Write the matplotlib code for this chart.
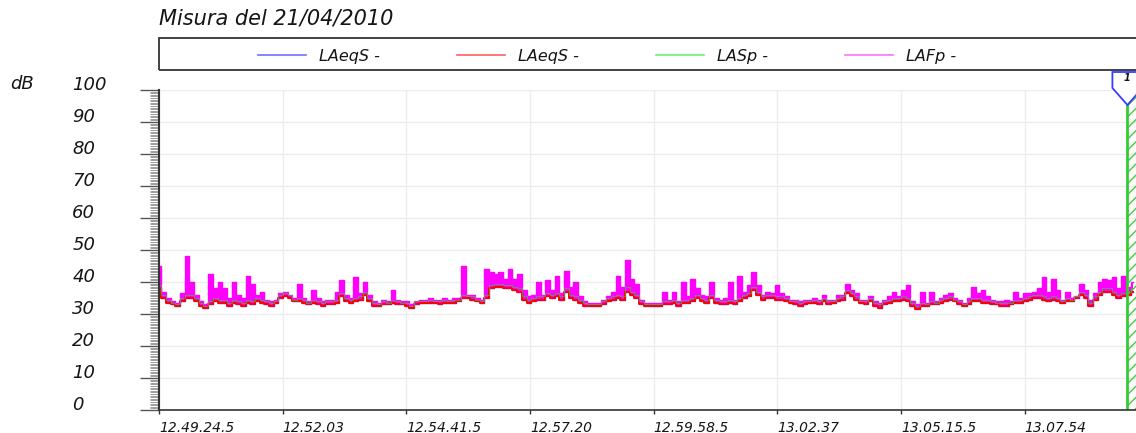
import numpy as np
import matplotlib.pyplot as plt
from matplotlib.lines import Line2D
from matplotlib.patches import Rectangle, Polygon
from matplotlib.ticker import MultipleLocator
from matplotlib.transforms import ScaledTranslation

title = "Misura del 21/04/2010"
series_names = ["LAeqS -", "LAeqS -", "LASp -", "LAFp -"]
series_colors = ["#3c3cff", "#ff0000", "#22dd22", "#ff00ff"]
legend_colors = ["#7070ff", "#ff6060", "#70ee70", "#ff70ff"]

# x tick labels (hh.mm.ss)
time_labels = ["12.49.24.5", "12.52.03", "12.54.41.5", "12.57.20",
               "12.59.58.5", "13.02.37", "13.05.15.5", "13.07.54"]
y_ticks = [0, 10, 20, 30, 40, 50, 60, 70, 80, 90, 100]

sample_step = 6  # seconds between samples
marker_t = 1241  # marker "1" (seconds from start)
marker_label = "1"

lafp = [45, 37, 35, 34, 33.5, 36.5, 48, 40, 36, 34, 33, 42.5, 38, 40, 38, 35, 40, 36, 35, 42,
        39.5, 36, 37, 34.5, 34, 34.5, 36.5, 37, 36, 35, 39.5, 35, 34, 37.5, 35, 34,
        34.5, 34.5, 37, 40.5, 36, 35, 41.5, 36.5, 40, 36, 34, 33.5, 34.5, 34, 37.5, 34.5, 34, 34, 33, 34,
        34.5, 34.5, 35, 34.5, 34.5, 35, 34.5, 35, 35, 45, 36, 36, 35, 34.5, 44,
        43, 42.5, 43, 41, 44, 41, 42.5, 37.5, 35.5, 36, 40, 36, 40.5, 37.5, 42, 36.5, 43.5, 38.5, 40, 35.5,
        34, 33.5, 33.5, 33.5, 34.5, 35.5, 37, 42, 38.5, 47, 41, 39.5, 34.5, 33.5, 33.5,
        33.5, 33.5, 37, 34.5, 37, 34, 40, 35.5, 41, 38, 36, 35.5, 40, 35, 34.5, 35, 40, 34.5, 42, 37,
        39, 43, 39, 36, 37, 36.5, 39, 36.5, 35.5, 34.5, 34.5, 34, 34.5, 34.5, 35,
        34.5, 36, 34.5, 34.5, 36, 36, 39.5, 37.5, 36.5, 34.5, 34.5, 35.5, 34, 33.5, 34.5, 35.5, 37, 35.5, 37.5, 39,
        34, 33, 37, 33.5, 37, 34, 35, 36, 36.5, 35, 34.5, 33.5, 35, 38.5, 36.5,
        37.5, 35.5, 34.5, 34, 34, 34.5, 34, 37, 35, 36.5, 36.5, 37, 38, 41.5, 37, 41, 37.5, 34.5, 37, 35,
        35.5, 39.5, 37.5, 34.5, 36.5, 40, 41, 40.5, 41.5, 38, 42, 38.5, 40]

laeqs = [38, 35, 33.5, 33, 32.5, 34, 35, 35, 34, 32.5, 32, 33, 34, 33.5, 33.5, 32.5, 33.5, 33, 32.5, 33.5,
         33, 34, 33.5, 33, 32.5, 33.5, 35, 35.5, 35, 34, 34, 33.5, 33, 33.5, 33, 32.5,
         33, 33, 33.5, 35.5, 34, 33.5, 34, 34.5, 36, 34, 32.5, 32.5, 33, 33, 33.5, 33, 33, 32.5, 32, 33,
         33.5, 33.5, 33.5, 33.5, 33, 33.5, 33.5, 33.5, 34, 35, 35, 34.5, 34, 33.5, 35,
         38, 38.5, 38.5, 38, 38, 37.5, 37, 34.5, 33.5, 34, 34.5, 34.5, 35.5, 35, 35.5, 34.5, 37, 35, 34.5, 33.5,
         32.5, 32.5, 32.5, 32.5, 33, 34, 34.5, 35, 34.5, 37, 36, 35, 33, 32.5, 32.5,
         32.5, 32.5, 33, 33, 33.5, 32.5, 33.5, 33.5, 34, 35, 34, 33.5, 35, 33.5, 33, 33, 33.5, 33, 34, 35,
         35.5, 37.5, 36, 34.5, 35, 35, 34.5, 34.5, 34, 33.5, 33, 32.5, 33, 33.5, 33.5,
         33, 34, 33, 33.5, 34, 34.5, 36.5, 35.5, 34.5, 33.5, 33, 34, 32.5, 32, 33, 33.5, 34, 34, 34.5, 34,
         32.5, 31.5, 32.5, 32.5, 33, 33, 33.5, 34, 34.5, 34, 33, 32.5, 33, 34, 34,
         33.5, 33.5, 33, 33, 32.5, 32.5, 33, 33.5, 33.5, 34, 34.5, 35, 35, 34.5, 34, 34.5, 34, 33.5, 34, 34,
         35, 36, 35, 32.5, 34.5, 36, 37, 37, 36, 35, 35.5, 36, 37]

lasp = [39, 36, 34.5, 33.5, 33, 35, 36, 36, 35, 33.5, 32.5, 34, 35, 34.5, 34.5, 33.5, 34.5, 34, 33.5, 34.5,
        34, 35, 34.5, 34, 33.5, 34, 36, 36.5, 36, 34.5, 35, 34.5, 33.5, 34.5, 34, 33.5,
        34, 34, 34.5, 36.5, 35, 34.5, 35, 35.5, 37, 35, 33.5, 33, 34, 33.5, 34.5, 34, 33.5, 33.5, 32.5, 34,
        34, 34, 34.5, 34, 34, 34.5, 34, 34.5, 34.5, 36, 35.5, 35.5, 34.5, 34, 36,
        39, 39.5, 39.5, 39, 39, 38.5, 38, 35.5, 34.5, 35, 35.5, 35.5, 36.5, 36, 36.5, 35.5, 38, 36, 35.5, 34.5,
        33.5, 33, 33, 33, 34, 35, 35.5, 36, 35.5, 38.5, 37, 36, 34, 33, 33,
        33, 33, 34, 34, 34.5, 33.5, 34.5, 34.5, 35, 36, 35, 34.5, 36, 34.5, 34, 34, 34.5, 34, 35, 36,
        36.5, 38.5, 37, 35.5, 36, 36, 35.5, 35.5, 35, 34, 34, 33.5, 34, 34, 34.5,
        34, 35, 34, 34, 35, 35.5, 37.5, 36.5, 35.5, 34, 34, 35, 33.5, 33, 34, 34.5, 35, 35, 35.5, 35,
        33.5, 32.5, 33.5, 33, 34, 33.5, 34.5, 35, 35.5, 34.5, 34, 33, 34, 35, 35,
        34.5, 34.5, 34, 33.5, 33.5, 33.5, 33.5, 34.5, 34.5, 35, 35.5, 36, 36, 35.5, 35, 35.5, 35, 34, 35, 34.5,
        35.5, 37, 36, 33.5, 35.5, 37, 38, 38, 37, 36, 36.5, 37, 38]


def to_sec(lbl):
    h, m, s = lbl.split(".", 2)
    return int(h) * 3600 + int(m) * 60 + float(s)


t0 = to_sec(time_labels[0])
tick_pos = [to_sec(l) - t0 for l in time_labels]
t = np.arange(len(lafp)) * sample_step

plt.rcParams['font.family'] = ['DejaVu Sans']
txt_col = "#151515"

fig = plt.figure(figsize=(11.36, 4.33), dpi=100)
ax = fig.add_axes([159 / 1136, 1 - 410 / 433, 1 - 159 / 1136, 320 / 433])

ax.plot(t, laeqs, color=series_colors[0], lw=1.0, drawstyle='steps-mid')
ax.plot(t, laeqs, color=series_colors[1], lw=1.4, drawstyle='steps-mid')
ax.fill_between(t, laeqs, lafp, step='mid', color=series_colors[3], lw=0)
ax.plot(t, lafp, color=series_colors[3], lw=1.0, drawstyle='steps-mid')
ax.plot(t, lasp, color=series_colors[2], lw=0.6, drawstyle='steps-mid', alpha=0.7)

# marker band on the right
ax.axvspan(marker_t, marker_t + 40, facecolor='none', edgecolor='#44cc44',
           hatch='///', lw=0)
ax.axvline(marker_t, color='#33cc33', lw=2)
mtr = fig.dpi_scale_trans + ScaledTranslation(marker_t, 100, ax.transData)
ax.add_patch(Polygon([(-0.15, 0.18), (-0.15, 0.02), (0, -0.15), (0.15, 0.02), (0.15, 0.18)],
                     closed=True, facecolor='white', edgecolor='#3c3cff', lw=1.3,
                     transform=mtr, clip_on=False, zorder=5))
ax.text(0, 0.12, marker_label, transform=mtr, ha='center', va='center',
        fontsize=7, style='italic', fontweight='bold', color=txt_col, zorder=6)

ax.set_xlim(0, 1252)
ax.set_ylim(0, 100)
ax.set_xticks(tick_pos)
ax.set_xticklabels(time_labels, ha='left', fontsize=10, style='italic', color=txt_col)
ax.set_yticks(y_ticks)
ax.set_yticklabels([str(v) for v in y_ticks], ha='left', fontsize=13, style='italic',
                   color=txt_col)
for lbl in ax.get_yticklabels():
    lbl.set_va('baseline')
ax.yaxis.set_minor_locator(MultipleLocator(0.5))
ax.tick_params(axis='y', which='major', length=13.5, width=1, color='#555555', pad=49)
ax.tick_params(axis='y', which='minor', length=6.5, width=0.5, color='#777777')
ax.tick_params(axis='x', which='major', length=3, width=1, color='#333333', pad=5)

ax.grid(True, which='major', color='#ececec', lw=1)
ax.set_axisbelow(True)
for s in ['top', 'right']:
    ax.spines[s].set_visible(False)
ax.spines['left'].set_color('#333333')
ax.spines['bottom'].set_color('#333333')
ax.spines['left'].set_linewidth(1.5)
ax.spines['bottom'].set_linewidth(1.2)

fig.text(10 / 1136, 1 - 89 / 433, "dB", fontsize=13, style='italic', color=txt_col,
         va='baseline')
fig.text(159 / 1136, 1 - 25 / 433, title, fontsize=15, style='italic', color=txt_col,
         va='baseline')

# legend strip
fig.patches.append(Rectangle((159 / 1136, 1 - 70 / 433), 1.0, 32 / 433,
                             transform=fig.transFigure, facecolor='none',
                             edgecolor='#333333', lw=1.3))
handles = [Line2D([], [], color=c, lw=1.2) for c in legend_colors]
leg = fig.legend(handles, series_names, ncol=4, loc='center left',
                 bbox_to_anchor=(258 / 1136, 1 - 56 / 433), frameon=False,
                 borderpad=0, borderaxespad=0, handlelength=3.0, handletextpad=0.8,
                 columnspacing=4.85, prop={'size': 11.5, 'style': 'italic'})
for tx in leg.get_texts():
    tx.set_color(txt_col)

fig.savefig("out.png", dpi=100)
